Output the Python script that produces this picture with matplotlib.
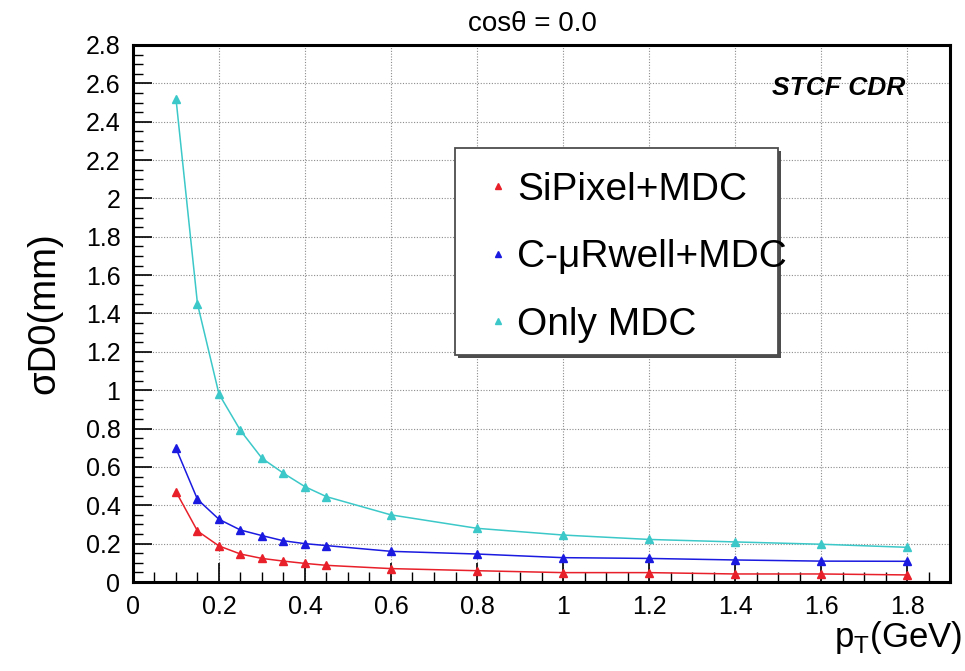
import numpy as np
import matplotlib
matplotlib.use('Agg')
import matplotlib.pyplot as plt
from matplotlib.patches import Rectangle
from matplotlib.ticker import MultipleLocator, AutoMinorLocator, FormatStrFormatter

plt.rcParams['font.family'] = ['Liberation Sans', 'DejaVu Sans']
plt.rcParams['mathtext.fontset'] = 'custom'
plt.rcParams['mathtext.rm'] = 'Liberation Sans'

# transverse momentum points [GeV]
pt = [0.1, 0.15, 0.2, 0.25, 0.3, 0.35, 0.4, 0.45, 0.6, 0.8, 1.0, 1.2, 1.4, 1.6, 1.8]

# D0 resolution [mm] for each detector option
sigma_sipixel = [0.471, 0.266, 0.188, 0.146, 0.123, 0.109, 0.097, 0.087, 0.070, 0.059,
                 0.049, 0.049, 0.042, 0.042, 0.037]
sigma_urwell = [0.697, 0.431, 0.327, 0.271, 0.242, 0.215, 0.200, 0.190, 0.160, 0.146,
                0.127, 0.123, 0.115, 0.109, 0.108]
sigma_mdc = [2.52, 1.45, 0.98, 0.79, 0.645, 0.567, 0.497, 0.445, 0.350, 0.280,
             0.245, 0.222, 0.209, 0.197, 0.181]

labels = ['SiPixel+MDC', 'C-\u03bcRwell+MDC', 'Only MDC']
colors = ['#e8202a', '#1a1ae0', '#3cc8c8']

fig = plt.figure(figsize=(9.65, 6.71), dpi=100)
ax = fig.add_axes([0.1378, 0.1326, 0.8467, 0.8004])

handles = []
for y, lab, c in zip([sigma_sipixel, sigma_urwell, sigma_mdc], labels, colors):
    ax.plot(pt, y, '-', color=c, lw=1.1)
    h, = ax.plot(pt, y, '^', color=c, ms=6, mec=c, label=lab)
    handles.append(h)

ax.set_xlim(0, 1.9)
ax.set_ylim(0, 2.8)
ax.xaxis.set_major_locator(MultipleLocator(0.2))
ax.yaxis.set_major_locator(MultipleLocator(0.2))
ax.xaxis.set_minor_locator(AutoMinorLocator(4))
ax.yaxis.set_minor_locator(AutoMinorLocator(4))
ax.xaxis.set_major_formatter(FormatStrFormatter('%g'))
ax.yaxis.set_major_formatter(FormatStrFormatter('%g'))
ax.tick_params(which='major', direction='in', length=14, width=1.2, labelsize=18, pad=9)
ax.tick_params(which='minor', direction='in', length=7, width=1.0)
ax.grid(True, which='major', color='0.55', lw=0.8, linestyle=(0, (1, 1.5)))
ax.set_axisbelow(True)
for s in ax.spines.values():
    s.set_linewidth(2.2)

ax.set_title('cos\u03b8 = 0.0', fontsize=20, pad=10, x=0.489)
ax.set_ylabel('\u03c3D0(mm)', fontsize=27.5, labelpad=17)
ax.set_xlabel(r'p$_\mathregular{T}$(GeV)', fontsize=25, ha='right')
ax.xaxis.set_label_coords(1.015, -0.068)

ax.text(0.945, 0.92, 'STCF CDR', transform=ax.transAxes, ha='right', va='center',
        fontsize=19, fontweight='bold', fontstyle='italic')

# legend box with a dark drop shadow (ROOT style)
bx, by, bw, bh = 0.394, 0.423, 0.395, 0.385
ax.add_patch(Rectangle((bx + 0.004, by - 0.006), bw, bh, transform=ax.transAxes,
                       facecolor='0.3', edgecolor='none', zorder=4))
ax.add_patch(Rectangle((bx, by), bw, bh, transform=ax.transAxes,
                       facecolor='white', edgecolor='0.3', lw=1.3, zorder=4))

leg = ax.legend(handles=handles, loc='upper left', bbox_to_anchor=(0.4325, 0.764),
                fontsize=28, frameon=False, markerscale=0.75,
                handlelength=0.6, handletextpad=0.19, labelspacing=0.81,
                borderpad=0, borderaxespad=0)
leg.set_zorder(5)

fig.savefig('out.png', dpi=100)
